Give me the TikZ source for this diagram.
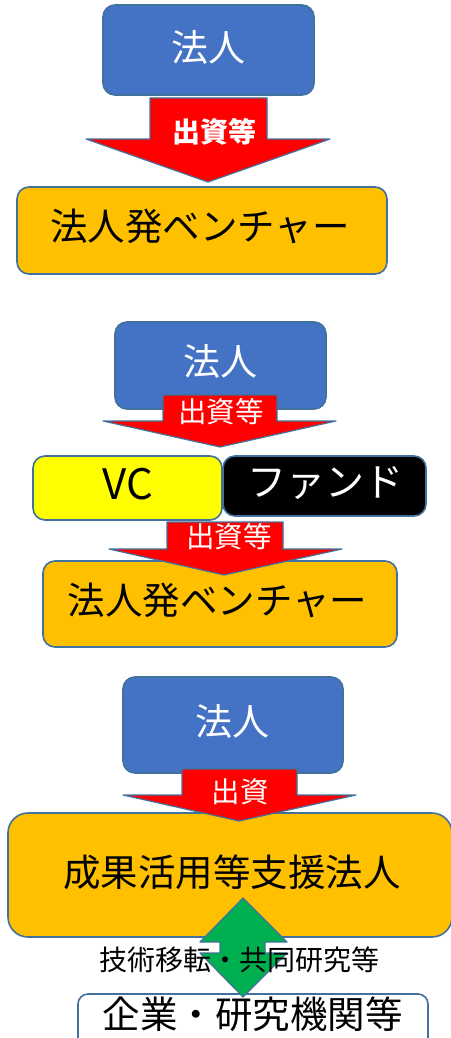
\documentclass[tikz,border=0pt]{standalone}
\usepackage{fontspec}
\setmainfont{Noto Sans CJK JP}
\definecolor{edge}{HTML}{41719C}
\definecolor{corpblue}{HTML}{4472C4}
\definecolor{vorange}{HTML}{FFC000}
\definecolor{arrred}{HTML}{FF0000}
\definecolor{arrgreen}{HTML}{00B050}
\definecolor{vcyellow}{HTML}{FFFF00}
\begin{document}
\begin{tikzpicture}[x=1pt,y=-1pt,line join=round]
\tikzset{
  box/.style={draw=edge,line width=1.6pt,rounded corners=12pt,rectangle,inner sep=0pt},
  corp/.style={box,fill=corpblue},
  venture/.style={box,fill=vorange},
  lbl/.style={inner sep=0pt,font=\fontsize{37.5}{40}\selectfont},
  corplbl/.style={inner sep=0pt,font=\fontsize{37}{40}\selectfont,text=white},
  arrlbl/.style={inner sep=0pt,font=\fontsize{28.5}{30}\selectfont,text=white},
  blockarrow/.style={fill=arrred,draw=edge,line width=1.2pt},
}
\useasboundingbox (0,0) rectangle (450,1038);
% ---------- panel 1 ----------
\node[corp,minimum width=211pt,minimum height=90pt] (b1) at (208.5,50) {};
\node[venture,minimum width=370pt,minimum height=87pt] (v1) at (202,230.5) {};
\draw[blockarrow] (150,98) -- (267,98) -- (267,139) -- (330,139) -- (208,182) -- (86,139) -- (150,139) -- cycle;
\node[corplbl] (t1) at (208.5,47) {法人};
\node[arrlbl,font=\fontsize{28}{30}\selectfont\bfseries] (a1) at (214,132) {出資等};
\node[lbl] (t2) at (200,226) {法人発ベンチャー};
% ---------- panel 2 ----------
\node[corp,minimum width=211pt,minimum height=87pt] (b2) at (220.5,365.5) {};
\draw[blockarrow] (163,395) -- (277,395) -- (277,421) -- (336,421) -- (220,447) -- (103,421) -- (163,421) -- cycle;
\node[corplbl] (t3) at (220,361) {法人};
\node[arrlbl] (a2) at (221,412) {出資等};
\node[box,fill=vcyellow,minimum width=189pt,minimum height=64pt] (vc) at (127.5,488) {};
\node[box,fill=black,minimum width=203pt,minimum height=60pt] (fd) at (324.5,486) {};
\node[lbl,font=\fontsize{42}{44}\selectfont] (t4) at (128,484) {VC};
\node[lbl,font=\fontsize{39}{42}\selectfont,text=white] (t5) at (325,483) {ファンド};
\node[venture,minimum width=354pt,minimum height=86pt] (v2) at (220,604) {};
\draw[blockarrow] (167,522) -- (283,522) -- (283,549) -- (342,549) -- (224,575) -- (109,549) -- (167,549) -- cycle;
\node[arrlbl] (a3) at (229,537) {出資等};
\node[lbl] (t6) at (217.5,600) {法人発ベンチャー};
% ---------- panel 3 ----------
\node[corp,minimum width=220pt,minimum height=96pt] (b3) at (233,725) {};
\node[venture,rounded corners=20pt,minimum width=444pt,minimum height=124pt] (s3) at (230,875) {};
\draw[blockarrow] (182,769) -- (297,769) -- (297,795) -- (356,795) -- (239,821) -- (123,795) -- (182,795) -- cycle;
\node[corplbl] (t7) at (232,721) {法人};
\node[arrlbl] (a4) at (240,792) {出資};
\node[lbl,font=\fontsize{37.5}{40}\selectfont] (t8) at (232,872) {成果活用等支援法人};
\node[box,fill=white,rounded corners=10pt,minimum width=350pt,minimum height=60pt] (c3) at (253,1024) {};
\draw[fill=arrgreen,draw=edge,line width=1.2pt] (243,898) -- (287,942) -- (265,942) -- (265,953) -- (287,953) -- (243,997) -- (200,953) -- (220,953) -- (220,942) -- (200,942) -- cycle;
\node[inner sep=0pt,font=\fontsize{28}{30}\selectfont] (t9) at (239,960) {技術移転・共同研究等};
\node[lbl,font=\fontsize{37.5}{40}\selectfont] (t10) at (252.5,1014) {企業・研究機関等};
\end{tikzpicture}
\end{document}
